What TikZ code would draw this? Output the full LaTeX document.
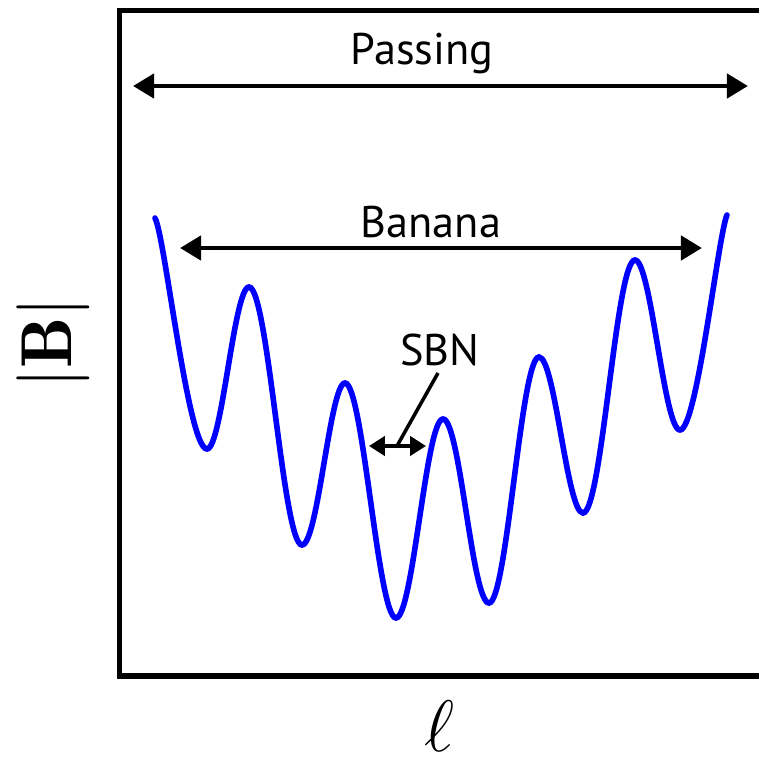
\documentclass[tikz,border=0pt]{standalone}
\usepackage{fontspec}
\usepackage{tikz}
\usetikzlibrary{arrows.meta}
\newfontfamily\lblfont{PT Sans}

\begin{document}
\begin{tikzpicture}[
  x=0.01cm, y=-0.01cm,
  frame/.style={line width=1.45pt},
  field/.style={blue, line width=1.6pt, line cap=round},
  span/.style={line width=1.4pt, {Triangle[length=6pt,width=6.8pt]}-{Triangle[length=6pt,width=6.8pt]}},
  small/.style={line width=1.1pt, {Triangle[length=4.5pt,width=5.4pt]}-{Triangle[length=4.5pt,width=5.4pt]}},
  leader/.style={line width=1pt},
  lbl/.style={font=\lblfont\fontsize{12.6}{14}\selectfont, inner sep=0pt, anchor=base},
  axis/.style={font=\fontsize{20.5}{24}\selectfont, inner sep=0pt}
]
\useasboundingbox (0,0) rectangle (759,757);

% --- frame (right side runs off the picture) ---
\draw[frame] (775,10.5) -- (119.5,10.5) -- (119.5,676) -- (775,676);

% --- axis labels ---
\node[axis, rotate=90] (bmod) at (53.5,343) {$|\mathbf{B}|$};
\node[axis] (ell) at (439,726) {$\ell$};

% --- |B| along the field line ---
\draw[field] (155,218)
  .. controls (165,236) and (188,449) .. (207,449)
  .. controls (222,449) and (234,287) .. (249,287)
  .. controls (268,287) and (283,545) .. (302,545)
  .. controls (318,545) and (330,383) .. (345,383)
  .. controls (363,383) and (378,618) .. (396,618)
  .. controls (413,618) and (426,419) .. (443,419)
  .. controls (460,419) and (472,603) .. (489,603)
  .. controls (507,603) and (521,357) .. (539,357)
  .. controls (555,357) and (567,513) .. (583,513)
  .. controls (602,513) and (616,260) .. (635,260)
  .. controls (651,260) and (664,430) .. (680,430)
  .. controls (697,430) and (718,236) .. (727,215);

% --- orbit classes ---
\coordinate (passL) at (133,86);
\coordinate (passR) at (748,86);
\coordinate (banL) at (180,248);
\coordinate (banR) at (702,248);
\coordinate (sbnL) at (369,446);
\coordinate (sbnR) at (426,446);
\coordinate (sbnFoot) at (397,446);
\coordinate (sbnTip) at (438,373);

\draw[span] (passL) -- (passR);
\draw[span] (banL) -- (banR);
\draw[small] (sbnL) -- (sbnR);
\draw[leader] (sbnTip) -- (sbnFoot);

\node[lbl] (passing) at (422,64) {Passing};
\node[lbl] (banana) at (431,237) {Banana};
\node[lbl] (sbn) at (440,365) {SBN};

\end{tikzpicture}
\end{document}
